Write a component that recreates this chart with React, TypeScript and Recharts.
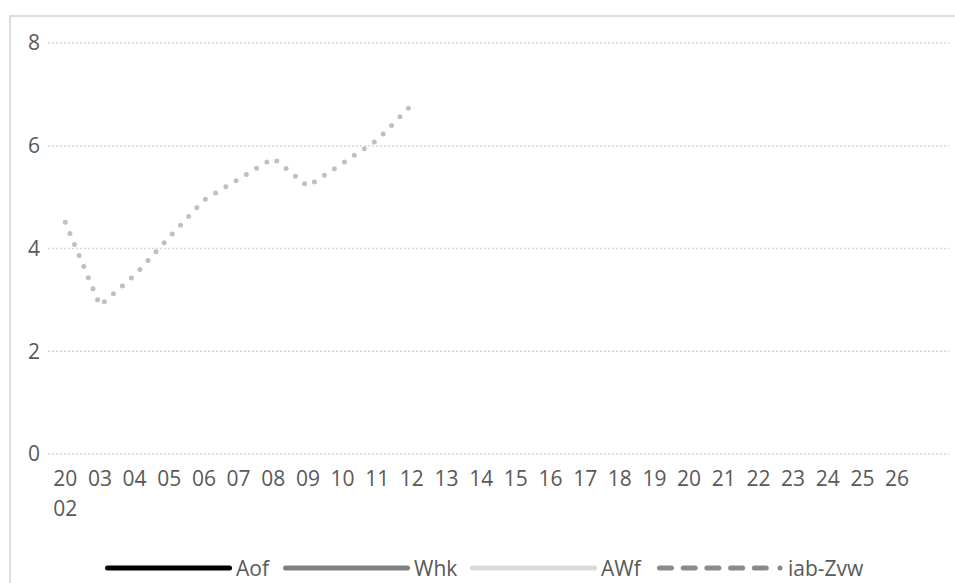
import React from 'react';
import { CartesianGrid, Line, LineChart, XAxis, YAxis } from 'recharts';

// Jahre auf der x-Achse (letzte Kategorie ohne Beschriftung)
const years = [
  '2002', '03', '04', '05', '06', '07', '08', '09', '10', '11', '12', '13', '14',
  '15', '16', '17', '18', '19', '20', '21', '22', '23', '24', '25', '26', '',
];

// Reihen – nur iab-Zvw hat Werte
const aof: (number | null)[] = [];
const whk: (number | null)[] = [];
const awf: (number | null)[] = [];
const iabZvw: (number | null)[] = [4.51, 2.89, 3.48, 4.22, 4.94, 5.35, 5.76, 5.21, 5.66, 6.11, 6.8];

const yTicks = [0, 2, 4, 6, 8];

const data = years.map((year, i) => ({
  year,
  aof: aof[i] ?? null,
  whk: whk[i] ?? null,
  awf: awf[i] ?? null,
  iabZvw: iabZvw[i] ?? null,
}));

const FONT = '"Open Sans", "Noto Sans", sans-serif';
const TEXT = '#595959';
const FS = 21;

/** Beschriftung umbrechen, wenn sie breiter als eine Kategorie ist. */
function YearTick({ x, y, payload }: { x?: number; y?: number; payload?: { value: string } }) {
  const label = String(payload?.value ?? '');
  const lines = label.length > 2 ? label.match(/.{1,2}/g) ?? [label] : [label];
  return (
    <g>
      {lines.map((l, i) => (
        <text
          key={i}
          x={x}
          y={(y ?? 0) + 30 + i * 30}
          textAnchor="middle"
          fill={TEXT}
          fontSize={FS}
          fontFamily={FONT}
        >
          {l}
        </text>
      ))}
    </g>
  );
}

function LegendItem({ left, label, children }: { left: number; label: string; children: React.ReactNode }) {
  return (
    <div style={{ position: 'absolute', left, top: 0, display: 'flex', alignItems: 'center', height: 30 }}>
      <svg width={127} height={12} style={{ display: 'block' }}>
        {children}
      </svg>
      <span style={{ marginLeft: 4, fontSize: FS, color: TEXT, fontFamily: FONT, lineHeight: '30px' }}>{label}</span>
    </div>
  );
}

function Legende() {
  return (
    <div style={{ position: 'absolute', left: 0, top: 553, width: 955, height: 30 }}>
      <LegendItem left={105} label="Aof">
        <line x1={2.5} y1={6} x2={124.5} y2={6} stroke="#000" strokeWidth={5} strokeLinecap="round" />
      </LegendItem>
      <LegendItem left={283} label="Whk">
        <line x1={2.5} y1={6} x2={124.5} y2={6} stroke="#808080" strokeWidth={5} strokeLinecap="round" />
      </LegendItem>
      <LegendItem left={470} label="AWf">
        <line x1={2.5} y1={6} x2={124.5} y2={6} stroke="#d9d9d9" strokeWidth={5} strokeLinecap="round" />
      </LegendItem>
      <LegendItem left={657} label="iab-Zvw">
        <line
          x1={2.5}
          y1={6}
          x2={114}
          y2={6}
          stroke="#8a8a8a"
          strokeWidth={5}
          strokeLinecap="round"
          strokeDasharray="12 11.7"
        />
        <circle cx={123} cy={6} r={2.5} fill="#8a8a8a" />
      </LegendItem>
    </div>
  );
}

export default function App() {
  return (
    <div style={{ position: 'absolute', left: 0, top: 0, width: 955, height: 583, overflow: 'hidden', background: '#fff' }}>
      <div
        style={{
          position: 'absolute',
          left: 9,
          top: 15,
          width: 980,
          height: 620,
          border: '2px solid #dedede',
          boxSizing: 'border-box',
        }}
      />
      <div style={{ position: 'absolute', left: 0, top: 0 }}>
        <LineChart width={955} height={583} data={data} margin={{ top: 43, right: 6, left: 0, bottom: 69 }}>
          <CartesianGrid vertical={false} stroke="#d6d6d6" strokeWidth={1.5} strokeDasharray="2 2" />
          <XAxis
            dataKey="year"
            interval={0}
            axisLine={false}
            tickLine={false}
            tickSize={0}
            height={60}
            padding={{ left: 17.3, right: 17.3 }}
            tick={<YearTick />}
          />
          <YAxis
            domain={[0, 8]}
            ticks={yTicks}
            width={48}
            axisLine={false}
            tickLine={false}
            tickSize={0}
            tickMargin={8}
            tick={{ fill: TEXT, fontSize: FS, fontFamily: FONT }}
          />
          <Line dataKey="aof" stroke="#000" strokeWidth={5} dot={false} isAnimationActive={false} />
          <Line dataKey="whk" stroke="#808080" strokeWidth={5} dot={false} isAnimationActive={false} />
          <Line dataKey="awf" stroke="#d9d9d9" strokeWidth={5} dot={false} isAnimationActive={false} />
          <Line
            dataKey="iabZvw"
            type="linear"
            stroke="#c0c0c0"
            strokeWidth={5}
            strokeDasharray="0 12"
            strokeLinecap="round"
            dot={false}
            activeDot={false}
            isAnimationActive={false}
          />
        </LineChart>
      </div>
      <Legende />
    </div>
  );
}
